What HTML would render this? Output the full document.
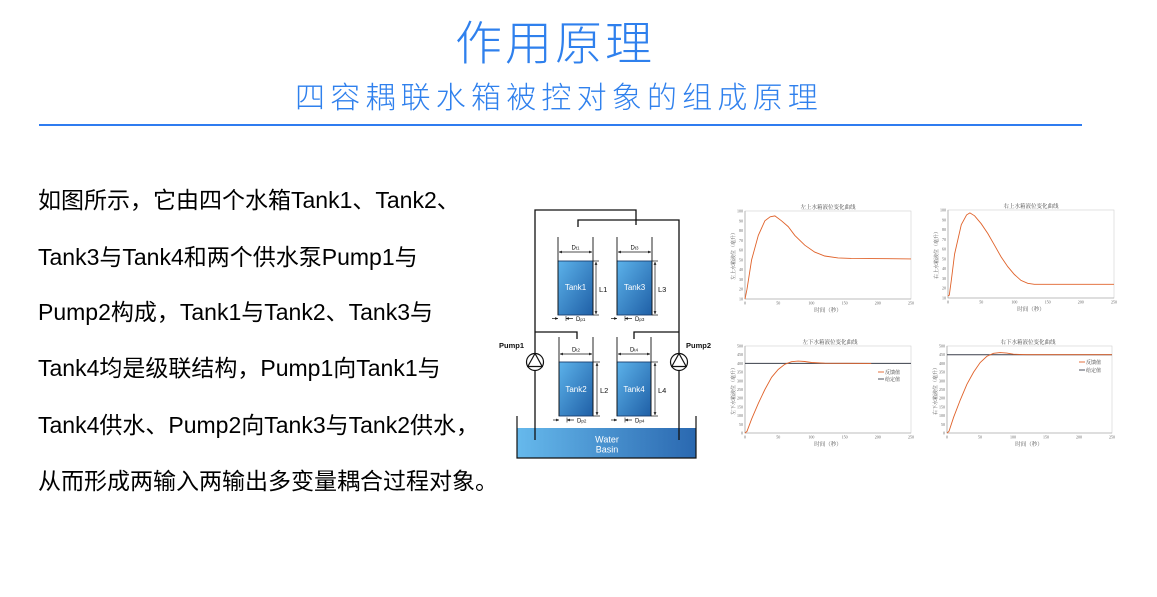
<!DOCTYPE html>
<html><head><meta charset="utf-8">
<style>
html,body{margin:0;padding:0;background:#fff;}
body{width:1157px;height:597px;position:relative;overflow:hidden;font-family:"Liberation Sans","Noto Sans CJK SC",sans-serif;}
.t{position:absolute;white-space:nowrap;}
.title{left:455px;top:16px;font-size:47px;line-height:47px;letter-spacing:3px;color:#2f80ed;font-family:"Noto Sans CJK SC",sans-serif;font-weight:300;}
.sub{left:295px;top:80px;font-size:30px;line-height:30px;letter-spacing:5.2px;color:#2f80ed;font-family:"Noto Sans CJK SC",sans-serif;font-weight:300;}
.hr{position:absolute;left:39px;top:124px;width:1043px;height:2px;background:#2f7cf0;}
.p{left:38px;font-size:23px;line-height:30px;color:#000;}
svg{position:absolute;left:0;top:0;}
</style></head><body>
<div class="t title">作用原理</div>
<div class="t sub">四容耦联水箱被控对象的组成原理</div>
<div class="hr"></div>

<div class="t p" style="top:185px">如图所示，它由四个水箱Tank1、Tank2、</div>
<div class="t p" style="top:242px">Tank3与Tank4和两个供水泵Pump1与</div>
<div class="t p" style="top:297px">Pump2构成，Tank1与Tank2、Tank3与</div>
<div class="t p" style="top:353px">Tank4均是级联结构，Pump1向Tank1与</div>
<div class="t p" style="top:410px">Tank4供水、Pump2向Tank3与Tank2供水，</div>
<div class="t p" style="top:466px">从而形成两输入两输出多变量耦合过程对象。</div>

<svg width="1157" height="597" viewBox="0 0 1157 597" xmlns="http://www.w3.org/2000/svg">
<defs>
<linearGradient id="tg" x1="0" y1="0" x2="1" y2="1">
<stop offset="0" stop-color="#5cb2ea"/><stop offset="1" stop-color="#1f5fa6"/>
</linearGradient>
<linearGradient id="bg" x1="0" y1="0" x2="1" y2="0">
<stop offset="0" stop-color="#66b9ec"/><stop offset="1" stop-color="#2a68b0"/>
</linearGradient>
<marker id="ar" viewBox="0 0 6 6" refX="6" refY="3" markerWidth="4" markerHeight="4" orient="auto-start-reverse"><path d="M0,0L6,3L0,6z" fill="#111"/></marker>
</defs>

<!-- Water basin -->
<rect x="517" y="428" width="179" height="30" fill="url(#bg)"/>
<path d="M517,416 V458 H696 V416" fill="none" stroke="#111" stroke-width="1.2"/>
<g font-family="Liberation Sans, sans-serif" font-size="9" fill="#fff" text-anchor="middle">
<text x="607" y="442.5">Water</text>
<text x="607" y="452.5">Basin</text>
</g>

<!-- Pipes -->
<g fill="none" stroke="#111" stroke-width="1.3">
<path d="M535,440 V210 H636 V225"/>
<path d="M679,440 V220 H578 V227"/>
<path d="M535,332 H577 V339"/>
<path d="M679,332 H634 V339"/>
</g>

<!-- Pumps -->
<g stroke="#111" stroke-width="1.2" fill="#fff">
<circle cx="535" cy="362" r="8.5"/>
<path d="M535,353.5 L527.8,366.5 L542.2,366.5 Z" fill="none"/>
<circle cx="679" cy="362" r="8.5"/>
<path d="M679,353.5 L671.8,366.5 L686.2,366.5 Z" fill="none"/>
</g>
<g font-family="Liberation Sans, sans-serif" font-size="7.5" font-weight="bold" fill="#111">
<text x="499" y="348">Pump1</text>
<text x="686" y="348">Pump2</text>
</g>

<!-- Tanks -->
<g stroke="#111" stroke-width="0.9" fill="none">
<!-- Tank1 -->
<rect x="558" y="261" width="35" height="54" fill="url(#tg)" stroke="#1a3f6e"/>
<line x1="558" y1="237" x2="558" y2="315"/><line x1="593" y1="237" x2="593" y2="315"/>
<line x1="559" y1="252" x2="592" y2="252" marker-start="url(#ar)" marker-end="url(#ar)" stroke-width="0.7"/>
<line x1="596" y1="262" x2="596" y2="314" marker-start="url(#ar)" marker-end="url(#ar)" stroke-width="0.7"/>
<line x1="593" y1="261" x2="599" y2="261" stroke-width="0.7"/><line x1="593" y1="315" x2="599" y2="315" stroke-width="0.7"/>
<line x1="552" y1="318.5" x2="558" y2="318.5" marker-end="url(#ar)" stroke-width="0.7"/>
<line x1="573" y1="318.5" x2="566" y2="318.5" marker-end="url(#ar)" stroke-width="0.7"/>
<line x1="566" y1="316" x2="566" y2="321" stroke-width="0.6"/>
<!-- Tank3 -->
<rect x="617" y="261" width="35" height="54" fill="url(#tg)" stroke="#1a3f6e"/>
<line x1="617" y1="237" x2="617" y2="315"/><line x1="652" y1="237" x2="652" y2="315"/>
<line x1="618" y1="252" x2="651" y2="252" marker-start="url(#ar)" marker-end="url(#ar)" stroke-width="0.7"/>
<line x1="655" y1="262" x2="655" y2="314" marker-start="url(#ar)" marker-end="url(#ar)" stroke-width="0.7"/>
<line x1="652" y1="261" x2="658" y2="261" stroke-width="0.7"/><line x1="652" y1="315" x2="658" y2="315" stroke-width="0.7"/>
<line x1="611" y1="318.5" x2="617" y2="318.5" marker-end="url(#ar)" stroke-width="0.7"/>
<line x1="632" y1="318.5" x2="625" y2="318.5" marker-end="url(#ar)" stroke-width="0.7"/>
<line x1="625" y1="316" x2="625" y2="321" stroke-width="0.6"/>
<!-- Tank2 -->
<rect x="559" y="362" width="34" height="54" fill="url(#tg)" stroke="#1a3f6e"/>
<line x1="559" y1="337" x2="559" y2="416"/><line x1="593" y1="337" x2="593" y2="416"/>
<line x1="560" y1="354" x2="592" y2="354" marker-start="url(#ar)" marker-end="url(#ar)" stroke-width="0.7"/>
<line x1="597" y1="363" x2="597" y2="415" marker-start="url(#ar)" marker-end="url(#ar)" stroke-width="0.7"/>
<line x1="593" y1="362" x2="600" y2="362" stroke-width="0.7"/><line x1="593" y1="416" x2="600" y2="416" stroke-width="0.7"/>
<line x1="553" y1="420" x2="559" y2="420" marker-end="url(#ar)" stroke-width="0.7"/>
<line x1="574" y1="420" x2="567" y2="420" marker-end="url(#ar)" stroke-width="0.7"/>
<line x1="567" y1="417.5" x2="567" y2="422.5" stroke-width="0.6"/>
<!-- Tank4 -->
<rect x="617" y="362" width="34" height="54" fill="url(#tg)" stroke="#1a3f6e"/>
<line x1="617" y1="337" x2="617" y2="416"/><line x1="651" y1="337" x2="651" y2="416"/>
<line x1="618" y1="354" x2="650" y2="354" marker-start="url(#ar)" marker-end="url(#ar)" stroke-width="0.7"/>
<line x1="655" y1="363" x2="655" y2="415" marker-start="url(#ar)" marker-end="url(#ar)" stroke-width="0.7"/>
<line x1="651" y1="362" x2="658" y2="362" stroke-width="0.7"/><line x1="651" y1="416" x2="658" y2="416" stroke-width="0.7"/>
<line x1="611" y1="420" x2="617" y2="420" marker-end="url(#ar)" stroke-width="0.7"/>
<line x1="632" y1="420" x2="625" y2="420" marker-end="url(#ar)" stroke-width="0.7"/>
<line x1="625" y1="417.5" x2="625" y2="422.5" stroke-width="0.6"/>
</g>
<g font-family="Liberation Sans, sans-serif" fill="#fff" font-size="8" text-anchor="middle">
<text x="575.5" y="290">Tank1</text>
<text x="634.5" y="290">Tank3</text>
<text x="576" y="392">Tank2</text>
<text x="634" y="392">Tank4</text>
</g>
<g font-family="Liberation Sans, sans-serif" fill="#111" font-size="7.5">
<text x="599" y="292">L1</text>
<text x="658" y="292">L3</text>
<text x="600" y="393">L2</text>
<text x="658" y="393">L4</text>
</g>
<g font-family="Liberation Sans, sans-serif" fill="#111" font-size="6" text-anchor="middle">
<text x="575.5" y="249.5">D<tspan font-size="4.5">t1</tspan></text>
<text x="634.5" y="249.5">D<tspan font-size="4.5">t3</tspan></text>
<text x="576" y="351.5">D<tspan font-size="4.5">t2</tspan></text>
<text x="634" y="351.5">D<tspan font-size="4.5">t4</tspan></text>
</g>
<g font-family="Liberation Sans, sans-serif" fill="#111" font-size="6">
<text x="576" y="321">D<tspan font-size="4.5">p1</tspan></text>
<text x="635" y="321">D<tspan font-size="4.5">p3</tspan></text>
<text x="577" y="422.5">D<tspan font-size="4.5">p2</tspan></text>
<text x="635" y="422.5">D<tspan font-size="4.5">p4</tspan></text>
</g>

<!-- Chart TL -->
<g transform="translate(745,211)" font-family="Liberation Serif, Noto Serif CJK SC, serif">
<rect x="0" y="0" width="166" height="88" fill="#fff" stroke="#d0d0d0" stroke-width="0.6"/>
<path d="M0,0 V88 H166" fill="none" stroke="#999" stroke-width="0.6"/>
<g font-size="4" fill="#666" text-anchor="end">
<text x="-2" y="89.5">10</text><text x="-2" y="79.7">20</text><text x="-2" y="69.9">30</text><text x="-2" y="60.2">40</text><text x="-2" y="50.4">50</text><text x="-2" y="40.6">60</text><text x="-2" y="30.8">70</text><text x="-2" y="21.1">80</text><text x="-2" y="11.3">90</text><text x="-2" y="1.5">100</text>
</g>
<g font-size="4" fill="#666" text-anchor="middle">
<text x="0" y="93.5">0</text><text x="33.2" y="93.5">50</text><text x="66.4" y="93.5">100</text><text x="99.6" y="93.5">150</text><text x="132.8" y="93.5">200</text><text x="166" y="93.5">250</text>
</g>
<text x="83" y="-2" font-size="5.5" fill="#444" text-anchor="middle">左上水箱液位变化曲线</text>
<text x="83" y="101" font-size="5.5" fill="#555" text-anchor="middle">时间（秒）</text>
<text transform="translate(-10,44) rotate(-90)" font-size="5" fill="#555" text-anchor="middle">左上水箱液位（毫升）</text>
<polyline fill="none" stroke="#e0622a" stroke-width="0.9" points="0,88 2,78.2 6.6,48.9 13.3,24.4 19.9,9.8 25.2,5.8 29.9,4.9 36.5,9.8 43.2,15.6 49.8,24.4 59.8,34.2 69.7,41.1 79.7,45 93,46.9 106.2,47.4 166,47.9"/>
</g>

<!-- Chart TR -->
<g transform="translate(948,210)" font-family="Liberation Serif, Noto Serif CJK SC, serif">
<rect x="0" y="0" width="166" height="88" fill="#fff" stroke="#d0d0d0" stroke-width="0.6"/>
<path d="M0,0 V88 H166" fill="none" stroke="#999" stroke-width="0.6"/>
<g font-size="4" fill="#666" text-anchor="end">
<text x="-2" y="89.5">10</text><text x="-2" y="79.7">20</text><text x="-2" y="69.9">30</text><text x="-2" y="60.2">40</text><text x="-2" y="50.4">50</text><text x="-2" y="40.6">60</text><text x="-2" y="30.8">70</text><text x="-2" y="21.1">80</text><text x="-2" y="11.3">90</text><text x="-2" y="1.5">100</text>
</g>
<g font-size="4" fill="#666" text-anchor="middle">
<text x="0" y="93.5">0</text><text x="33.2" y="93.5">50</text><text x="66.4" y="93.5">100</text><text x="99.6" y="93.5">150</text><text x="132.8" y="93.5">200</text><text x="166" y="93.5">250</text>
</g>
<text x="83" y="-2" font-size="5.5" fill="#444" text-anchor="middle">右上水箱液位变化曲线</text>
<text x="83" y="101" font-size="5.5" fill="#555" text-anchor="middle">时间（秒）</text>
<text transform="translate(-10,44) rotate(-90)" font-size="5" fill="#555" text-anchor="middle">右上水箱液位（毫升）</text>
<polyline fill="none" stroke="#e0622a" stroke-width="0.9" points="0,86 1.3,85.1 3.3,70.4 6.6,44 13.3,14.7 18.6,4.9 21.9,2.9 26.6,5.8 33.2,13.7 39.8,23.5 46.5,35.2 53.1,46.9 59.8,56.7 66.4,64.5 73,70.4 79.7,73.3 86.3,74.3 166,74.3"/>
</g>

<!-- Chart BL -->
<g transform="translate(745,346)" font-family="Liberation Serif, Noto Serif CJK SC, serif">
<rect x="0" y="0" width="166" height="87" fill="#fff" stroke="#d0d0d0" stroke-width="0.6"/>
<path d="M0,0 V87 H166" fill="none" stroke="#999" stroke-width="0.6"/>
<g font-size="4" fill="#666" text-anchor="end">
<text x="-2" y="88.5">0</text><text x="-2" y="79.8">50</text><text x="-2" y="71.1">100</text><text x="-2" y="62.4">150</text><text x="-2" y="53.7">200</text><text x="-2" y="45">250</text><text x="-2" y="36.3">300</text><text x="-2" y="27.6">350</text><text x="-2" y="18.9">400</text><text x="-2" y="10.2">450</text><text x="-2" y="1.5">500</text>
</g>
<g font-size="4" fill="#666" text-anchor="middle">
<text x="0" y="92.5">0</text><text x="33.2" y="92.5">50</text><text x="66.4" y="92.5">100</text><text x="99.6" y="92.5">150</text><text x="132.8" y="92.5">200</text><text x="166" y="92.5">250</text>
</g>
<text x="85" y="-2" font-size="5.5" fill="#444" text-anchor="middle">左下水箱液位变化曲线</text>
<text x="83" y="100" font-size="5.5" fill="#555" text-anchor="middle">时间（秒）</text>
<text transform="translate(-10,44) rotate(-90)" font-size="5" fill="#555" text-anchor="middle">左下水箱液位（毫升）</text>
<line x1="0" y1="17.4" x2="166" y2="17.4" stroke="#3a3f4a" stroke-width="1"/>
<polyline fill="none" stroke="#e0622a" stroke-width="0.9" points="0,87 2,85.3 6.6,73.1 13.3,57.4 19.9,43.5 26.6,31.3 33.2,23.5 39.8,18.3 46.5,15.7 53.1,15.1 59.8,15.5 66.4,16.5 79.7,17.2 126.2,17.4"/>
<line x1="133" y1="26" x2="139" y2="26" stroke="#e0622a" stroke-width="0.9"/>
<text x="140" y="27.8" font-size="5" fill="#333">反馈值</text>
<line x1="133" y1="33" x2="139" y2="33" stroke="#3a3f4a" stroke-width="0.9"/>
<text x="140" y="34.8" font-size="5" fill="#333">给定值</text>
</g>

<!-- Chart BR -->
<g transform="translate(947,346)" font-family="Liberation Serif, Noto Serif CJK SC, serif">
<rect x="0" y="0" width="165" height="87" fill="#fff" stroke="#d0d0d0" stroke-width="0.6"/>
<path d="M0,0 V87 H165" fill="none" stroke="#999" stroke-width="0.6"/>
<g font-size="4" fill="#666" text-anchor="end">
<text x="-2" y="88.5">0</text><text x="-2" y="79.8">50</text><text x="-2" y="71.1">100</text><text x="-2" y="62.4">150</text><text x="-2" y="53.7">200</text><text x="-2" y="45">250</text><text x="-2" y="36.3">300</text><text x="-2" y="27.6">350</text><text x="-2" y="18.9">400</text><text x="-2" y="10.2">450</text><text x="-2" y="1.5">500</text>
</g>
<g font-size="4" fill="#666" text-anchor="middle">
<text x="0" y="92.5">0</text><text x="33" y="92.5">50</text><text x="66" y="92.5">100</text><text x="99" y="92.5">150</text><text x="132" y="92.5">200</text><text x="165" y="92.5">250</text>
</g>
<text x="81" y="-2" font-size="5.5" fill="#444" text-anchor="middle">右下水箱液位变化曲线</text>
<text x="82" y="100" font-size="5.5" fill="#555" text-anchor="middle">时间（秒）</text>
<text transform="translate(-10,44) rotate(-90)" font-size="5" fill="#555" text-anchor="middle">右下水箱液位（毫升）</text>
<line x1="0" y1="8.7" x2="165" y2="8.7" stroke="#3a3f4a" stroke-width="1"/>
<polyline fill="none" stroke="#e0622a" stroke-width="0.9" points="0,87 2,85.3 6.6,71.3 13.3,53.9 19.9,38.3 26.6,26.1 33.2,16.5 39.8,10.4 46.5,7.3 53.1,6.6 59.8,7.1 66.4,8.2 79.7,8.7 165,8.7"/>
<line x1="132" y1="16" x2="138" y2="16" stroke="#e0622a" stroke-width="0.9"/>
<text x="139" y="17.8" font-size="5" fill="#333">反馈值</text>
<line x1="132" y1="24" x2="138" y2="24" stroke="#3a3f4a" stroke-width="0.9"/>
<text x="139" y="25.8" font-size="5" fill="#333">给定值</text>
</g>
</svg>
</body></html>
